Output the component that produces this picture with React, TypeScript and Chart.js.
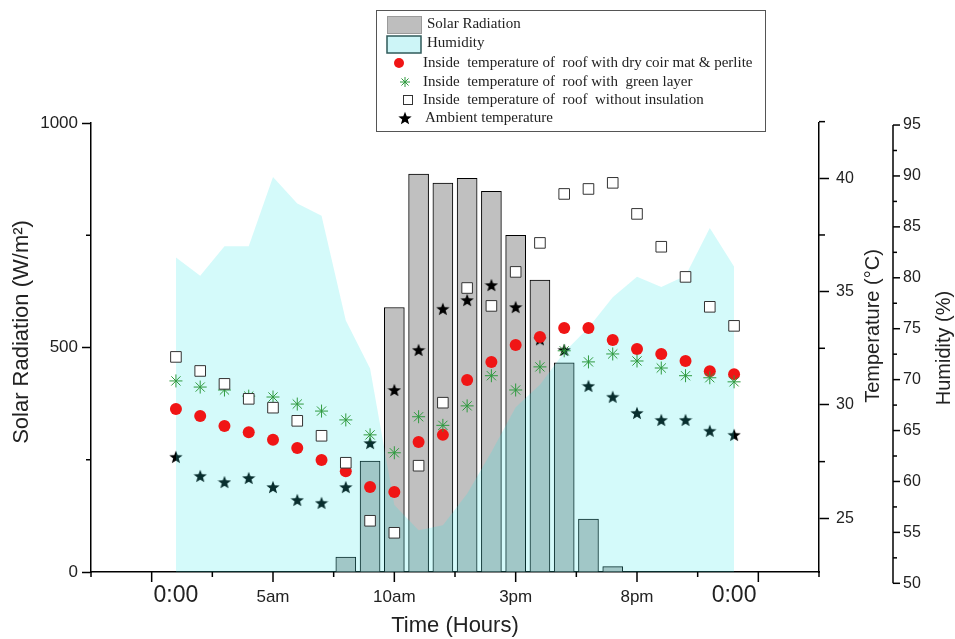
import React, { useEffect, useRef } from 'react';
import { Chart, registerables } from 'chart.js';

Chart.register(...registerables);

// ---------------- data ----------------
const hours = [1, 2, 3, 4, 5, 6, 7, 8, 9, 10, 11, 12, 13, 14, 15, 16, 17, 18, 19, 20, 21, 22, 23, 24];

const solarRadiation: (number | null)[] = [
  null, null, null, null, null, null, null, 33, 247, 589, 886, 866,
  877, 848, 750, 650, 466, 118, 12, null, null, null, null, null,
];

const humidity = [
  82.0, 80.2, 83.1, 83.1, 89.9, 87.3, 86.1, 75.8, 71.1, 57.7, 55.2, 55.7,
  58.8, 62.9, 67.3, 69.5, 72.7, 75.1, 78.1, 80.1, 79.1, 80.2, 84.9, 81.1,
];

const tempCoirPerlite = [
  29.82, 29.51, 29.07, 28.8, 28.46, 28.1, 27.57, 27.08, 26.38, 26.16, 28.37, 28.68,
  31.1, 31.9, 32.65, 33.0, 33.4, 33.4, 32.87, 32.47, 32.25, 31.94, 31.49, 31.36,
];

const tempGreenLayer = [
  31.06, 30.79, 30.66, 30.39, 30.35, 30.04, 29.73, 29.34, 28.68, 27.89, 29.48, 29.1,
  29.96, 31.29, 30.66, 31.68, 32.39, 31.9, 32.25, 31.94, 31.63, 31.29, 31.2, 31.02,
];

const tempNoInsulation = [
  32.12, 31.5, 30.93, 30.27, 29.88, 29.3, 28.64, 27.45, 24.89, 24.36, 27.32, 30.1,
  35.16, 34.37, 35.87, 37.15, 39.31, 39.53, 39.8, 38.43, 36.98, 35.65, 34.33, 33.49,
];

const tempAmbient = [
  27.71, 26.87, 26.6, 26.78, 26.38, 25.81, 25.68, 26.38, 28.32, 30.66, 32.43, 34.24,
  34.63, 35.29, 34.32, 32.9, 32.43, 30.84, 30.36, 29.65, 29.34, 29.34, 28.86, 28.68,
];

const xTickValues = [1, 5, 10, 15, 20, 24];
const xTickLabels = ['0:00', '5am', '10am', '3pm', '8pm', '0:00'];
const solarTicks = [0, 500, 1000];
const tempTicks = [25, 30, 35, 40];
const humidityTicks = [50, 55, 60, 65, 70, 75, 80, 85, 90, 95];

const legendLabels = [
  'Solar Radiation',
  'Humidity',
  'Inside  temperature of  roof with dry coir mat & perlite',
  'Inside  temperature of  roof with  green layer',
  'Inside  temperature of  roof  without insulation',
  'Ambient temperature',
];

// ---------------- helpers ----------------
const SANS = '"Liberation Sans", Arial, sans-serif';
const SERIF = '"Liberation Serif", "Times New Roman", serif';

function toXY(values: (number | null)[]) {
  const out: { x: number; y: number }[] = [];
  values.forEach((v, i) => {
    if (v !== null && v !== undefined) out.push({ x: hours[i], y: v });
  });
  return out;
}

function drawStarPath(g: CanvasRenderingContext2D, cx: number, cy: number, R: number) {
  const r = R * 0.42;
  g.beginPath();
  for (let i = 0; i < 10; i++) {
    const a = -Math.PI / 2 + (i * Math.PI) / 5;
    const rad = i % 2 === 0 ? R : r;
    g.lineTo(cx + rad * Math.cos(a), cy + rad * Math.sin(a));
  }
  g.closePath();
}

function makeStar(size: number, color: string) {
  const c = document.createElement('canvas');
  c.width = size;
  c.height = size;
  const g = c.getContext('2d')!;
  drawStarPath(g, size / 2, size / 2 + size * 0.05, size / 2);
  g.fillStyle = color;
  g.fill();
  return c;
}

function line(ctx: CanvasRenderingContext2D, x1: number, y1: number, x2: number, y2: number) {
  ctx.beginPath();
  ctx.moveTo(x1, y1);
  ctx.lineTo(x2, y2);
  ctx.stroke();
}

function vText(ctx: CanvasRenderingContext2D, text: string, x: number, y: number, font: string) {
  ctx.save();
  ctx.translate(x, y);
  ctx.rotate(-Math.PI / 2);
  ctx.font = font;
  ctx.textAlign = 'center';
  ctx.textBaseline = 'middle';
  ctx.fillStyle = '#222';
  ctx.fillText(text, 0, 0);
  ctx.restore();
}

function makeExtrasPlugin(starImg: HTMLCanvasElement) {
  return {
    id: 'extras',
    afterDraw(chart: any) {
      const ctx: CanvasRenderingContext2D = chart.ctx;
      const area = chart.chartArea;
      const sx = chart.scales.x;
      const sy = chart.scales.y;
      const sT = chart.scales.yT;
      const sH = chart.scales.yH;
      ctx.save();
      ctx.strokeStyle = '#000';
      ctx.lineWidth = 1.5;

      // x-axis tick marks (major / minor)
      for (let v = -2.5; v <= 27.5 + 1e-9; v += 2.5) {
        const px = sx.getPixelForValue(v);
        const major = Math.abs(v % 5) < 1e-9;
        line(ctx, px, area.bottom, px, area.bottom + (major ? 10 : 5));
      }
      // left minor ticks
      [250, 750].forEach((v) => {
        const py = sy.getPixelForValue(v);
        line(ctx, area.left - 5, py, area.left, py);
      });
      // temperature minor ticks
      [27.5, 32.5, 37.5, 42.5].forEach((v) => {
        const py = sT.getPixelForValue(v);
        line(ctx, area.right, py, area.right + 6, py);
      });

      // humidity axis (offset axis)
      const hx = 893;
      const top = sH.getPixelForValue(95);
      const bot = sH.getPixelForValue(50);
      line(ctx, hx, top, hx, bot);
      for (let v = 50; v <= 95 + 1e-9; v += 2.5) {
        const py = sH.getPixelForValue(v);
        const major = Math.abs(v % 5) < 1e-9;
        line(ctx, hx, py, hx + (major ? 7 : 4), py);
      }
      ctx.fillStyle = '#222';
      ctx.font = `16px ${SANS}`;
      ctx.textAlign = 'left';
      ctx.textBaseline = 'middle';
      humidityTicks.forEach((v) => {
        ctx.fillText(String(v), hx + 10, sH.getPixelForValue(v));
      });

      // axis titles
      vText(ctx, 'Solar Radiation (W/m\u00B2)', 22, 332, `22px ${SANS}`);
      vText(ctx, 'Temperature (\u00B0C)', 873, 326, `20px ${SANS}`);
      vText(ctx, 'Humidity (%)', 944, 348, `20px ${SANS}`);

      // legend box
      ctx.lineWidth = 1;
      ctx.strokeStyle = '#555';
      ctx.fillStyle = '#fff';
      ctx.fillRect(376.5, 10.5, 389, 121);
      ctx.strokeRect(376.5, 10.5, 389, 121);

      const rows = [24, 43, 63, 82, 100, 118];
      // solar radiation swatch
      ctx.fillStyle = '#bebebe';
      ctx.fillRect(387, 16, 35, 18);
      ctx.strokeStyle = '#9a9a9a';
      ctx.strokeRect(387.5, 16.5, 34, 17);
      // humidity swatch
      ctx.fillStyle = '#cdf5f7';
      ctx.fillRect(387, 36, 34, 17);
      ctx.strokeStyle = '#2f5a5a';
      ctx.lineWidth = 1.5;
      ctx.strokeRect(387, 36, 34, 17);
      // red circle
      ctx.fillStyle = '#f01515';
      ctx.beginPath();
      ctx.arc(399, rows[2], 5, 0, Math.PI * 2);
      ctx.fill();
      // green asterisk
      ctx.strokeStyle = '#2f9a3f';
      ctx.lineWidth = 1;
      for (let k = 0; k < 4; k++) {
        const a = (k * Math.PI) / 4;
        line(ctx, 405 - 5 * Math.cos(a), rows[3] - 5 * Math.sin(a), 405 + 5 * Math.cos(a), rows[3] + 5 * Math.sin(a));
      }
      // square
      ctx.fillStyle = '#fff';
      ctx.strokeStyle = '#333';
      ctx.lineWidth = 1;
      ctx.fillRect(403.5, rows[4] - 4.5, 9, 9);
      ctx.strokeRect(403.5, rows[4] - 4.5, 9, 9);
      // star
      ctx.drawImage(starImg, 405 - starImg.width / 2, rows[5] - starImg.height / 2);

      ctx.fillStyle = '#222';
      ctx.font = `15px ${SERIF}`;
      ctx.textAlign = 'left';
      ctx.textBaseline = 'middle';
      legendLabels.forEach((t, i) => {
        ctx.fillText(t, i < 2 ? 427 : i === 5 ? 425 : 423, rows[i]);
      });
      ctx.restore();
    },
  };
}

export default function App() {
  const ref = useRef<HTMLCanvasElement | null>(null);

  useEffect(() => {
    if (!ref.current) return;
    const starImg = makeStar(14, '#000');
    const chart = new Chart(ref.current, {
      type: 'bar',
      data: {
        datasets: [
          {
            type: 'line',
            label: legendLabels[4],
            data: toXY(tempNoInsulation),
            yAxisID: 'yT',
            showLine: false,
            pointStyle: 'rect',
            pointRadius: 7.5,
            pointBackgroundColor: '#ffffff',
            pointBorderColor: '#333333',
            pointBorderWidth: 1,
            order: 0,
          } as any,
          {
            type: 'line',
            label: legendLabels[3],
            data: toXY(tempGreenLayer),
            yAxisID: 'yT',
            showLine: false,
            pointStyle: 'star',
            pointRadius: 6.5,
            pointBackgroundColor: '#2f9a3f',
            pointBorderColor: '#2f9a3f',
            pointBorderWidth: 1,
            order: 1,
          } as any,
          {
            type: 'line',
            label: legendLabels[2],
            data: toXY(tempCoirPerlite),
            yAxisID: 'yT',
            showLine: false,
            pointStyle: 'circle',
            pointRadius: 6,
            pointBackgroundColor: '#f01515',
            pointBorderColor: '#f01515',
            pointBorderWidth: 0,
            order: 2,
          } as any,
          {
            type: 'line',
            label: legendLabels[1],
            data: toXY(humidity),
            yAxisID: 'yH',
            fill: 'start',
            backgroundColor: 'rgba(40,230,230,0.2)',
            borderColor: 'rgba(0,0,0,0)',
            borderWidth: 1,
            pointRadius: 0,
            tension: 0,
            order: 3,
          } as any,
          {
            type: 'line',
            label: legendLabels[5],
            data: toXY(tempAmbient),
            yAxisID: 'yT',
            showLine: false,
            pointStyle: starImg,
            pointRadius: 7,
            order: 4,
          } as any,
          {
            type: 'bar',
            label: legendLabels[0],
            data: toXY(solarRadiation),
            yAxisID: 'y',
            backgroundColor: '#c0c0c0',
            borderColor: '#000000',
            borderWidth: 1,
            barThickness: 20,
            order: 5,
          } as any,
        ],
      },
      options: {
        animation: false,
        responsive: true,
        maintainAspectRatio: false,
        devicePixelRatio: 1,
        layout: { padding: { top: 123, left: 0, right: 0, bottom: 0 } },
        plugins: {
          legend: { display: false },
          tooltip: { enabled: false },
        },
        scales: {
          x: {
            type: 'linear',
            position: 'bottom',
            min: -2.5,
            max: 27.5,
            offset: false,
            afterFit: (s: any) => {
              s.height = 67;
            },
            afterBuildTicks: (s: any) => {
              s.ticks = xTickValues.map((v) => ({ value: v }));
            },
            grid: { display: false, drawTicks: false },
            border: { display: true, color: '#000', width: 1.5 },
            ticks: {
              autoSkip: false,
              maxRotation: 0,
              padding: 10,
              color: '#222',
              font: (c: any) =>
                c.index === 0 || c.index === xTickValues.length - 1
                  ? { family: SANS, size: 23, lineHeight: 1.2 }
                  : { family: SANS, size: 17, lineHeight: 1.84 },
              callback: (_v: any, i: number) => xTickLabels[i],
            },
            title: {
              display: true,
              text: 'Time (Hours)',
              color: '#222',
              font: { family: SANS, size: 22 },
              padding: { top: 0, bottom: 0 },
            },
          },
          y: {
            type: 'linear',
            position: 'left',
            min: 0,
            max: 1000,
            afterFit: (s: any) => {
              s.width = 91;
            },
            afterBuildTicks: (s: any) => {
              s.ticks = solarTicks.map((v) => ({ value: v }));
            },
            grid: {
              display: true,
              drawOnChartArea: false,
              drawTicks: true,
              tickLength: 9,
              tickWidth: 1.5,
              tickColor: '#000',
            },
            border: { display: true, color: '#000', width: 1.5 },
            ticks: {
              padding: 4,
              color: '#222',
              font: { family: SANS, size: 17 },
              callback: (v: any) => String(v),
            },
          },
          yT: {
            type: 'linear',
            position: 'right',
            min: 22.63,
            max: 42.44,
            afterFit: (s: any) => {
              s.width = 136;
            },
            afterBuildTicks: (s: any) => {
              s.ticks = tempTicks.map((v) => ({ value: v }));
            },
            grid: {
              display: true,
              drawOnChartArea: false,
              drawTicks: true,
              tickLength: 10,
              tickWidth: 1.5,
              tickColor: '#000',
            },
            border: { display: true, color: '#000', width: 1.5 },
            ticks: {
              padding: 7,
              color: '#222',
              font: { family: SANS, size: 16 },
              callback: (v: any) => String(v),
            },
          },
          yH: {
            type: 'linear',
            position: 'right',
            display: false,
            min: 51.11,
            max: 95.2,
          },
        },
      } as any,
      plugins: [makeExtrasPlugin(starImg)],
    });
    return () => chart.destroy();
  }, []);

  return (
    <div style={{ position: 'fixed', left: 0, top: 0, width: 955, height: 639, background: '#fff' }}>
      <canvas ref={ref} />
    </div>
  );
}
